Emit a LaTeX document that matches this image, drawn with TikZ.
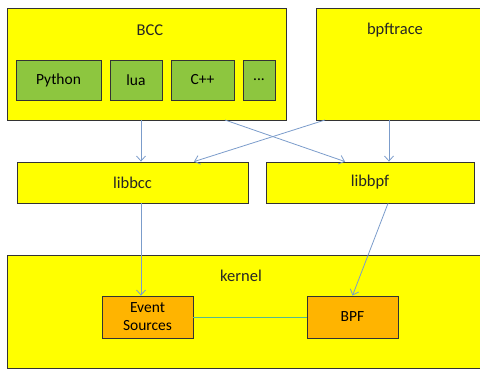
\documentclass[tikz,border=0pt]{standalone}
\usepackage{fontspec}
\setmainfont{Carlito}
\usetikzlibrary{arrows.meta}
\definecolor{boxyellow}{HTML}{FFFF00}
\definecolor{langgreen}{HTML}{8DC63F}
\definecolor{kernorange}{HTML}{FFB400}
\definecolor{flowblue}{HTML}{7B9CCB}
\definecolor{edgegray}{HTML}{333333}
\tikzset{
  layer/.style={draw=edgegray, line width=0.8pt, fill=boxyellow},
  lang/.style={draw=edgegray, line width=0.8pt, fill=langgreen, font=\fontsize{15.5}{17}\selectfont},
  part/.style={draw=edgegray, line width=0.8pt, fill=kernorange, font=\fontsize{15.5}{18}\selectfont, align=center},
  title/.style={font=\fontsize{16.5}{19}\selectfont, text=black!85},
  flow/.style={draw=flowblue, line width=0.8pt, -{Straight Barb[length=5pt,width=9pt]}},
  link/.style={draw=flowblue!70!green, line width=0.8pt}
}
\begin{document}
\begin{tikzpicture}[x=1pt,y=-1pt]
\useasboundingbox (0,0) rectangle (480,369);
% top-level tools
\draw[layer] (7,8) rectangle (286,120);
\node[title] (bcc) at (150,30) {BCC};
\draw[layer] (316,8) rectangle (481,120);
\node[title] (bpftrace) at (395,30) {bpftrace};
% front-end languages of BCC
\node[lang, minimum width=85pt, minimum height=40pt] (python) at (58.5,80) {Python};
\node[lang, minimum width=52pt, minimum height=40pt] (lua) at (136,80) {lua};
\node[lang, minimum width=63pt, minimum height=40pt] (cpp) at (202.5,80) {C++};
\node[lang, minimum width=32pt, minimum height=40pt] (more) at (259,80) {...};
% libraries
\node[layer, title, minimum width=231pt, minimum height=41pt] (libbcc) at (132.5,182.5) {libbcc};
\node[layer, title, minimum width=208pt, minimum height=41pt] (libbpf) at (370,182.5) {libbpf};
% kernel
\draw[layer] (7,255) rectangle (481,368);
\node[title] (kernel) at (241,276) {kernel};
\node[part, minimum width=91pt, minimum height=42pt, inner sep=0pt] (events) at (147.5,317) {Event\\Sources};
\node[part, minimum width=91pt, minimum height=42pt] (bpf) at (352.5,317) {BPF};
% connections
\coordinate (bccA) at (141,120);
\coordinate (bccB) at (225,120);
\coordinate (btA) at (325,120);
\coordinate (btB) at (389,120);
\draw[flow] (bccA) -- (libbcc.north -| bccA);
\draw[flow] (bccB) -- ([xshift=-25pt]libbpf.north);
\draw[flow] (btA) -- ([xshift=61.5pt]libbcc.north);
\draw[flow] (btB) -- (libbpf.north -| btB);
\draw[flow] (libbcc.south -| bccA) -- (events.north -| bccA);
\draw[flow] ([xshift=18pt]libbpf.south) -- (bpf.north);
\draw[link] (events) -- (bpf);
\end{tikzpicture}
\end{document}
